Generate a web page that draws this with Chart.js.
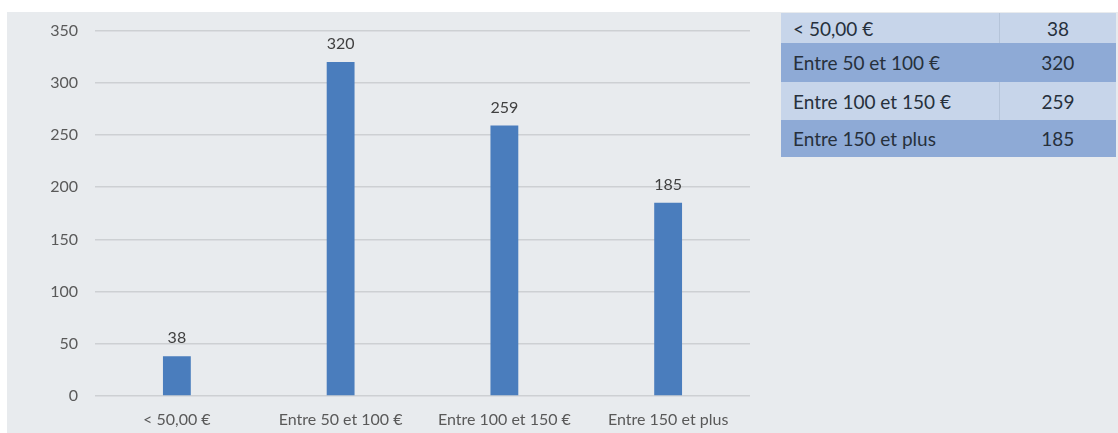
<!DOCTYPE html>
<html>
<head>
<meta charset="utf-8">
<script src="https://cdn.jsdelivr.net/npm/chart.js@4/dist/chart.umd.min.js"></script>
<style>
  body { margin: 0; background: #fff; width: 1118px; height: 433px; overflow: hidden; position: relative; font-family: Lato, "Open Sans", sans-serif; }
  #panel { position: absolute; left: 7px; top: 12px; width: 1111px; height: 421px; background: #e8ebee; }
  #chartBox { position: absolute; left: 7px; top: 4px; width: 763px; height: 429px; }
  #tbl { position: absolute; left: 781px; top: 13px; width: 335px; border-collapse: collapse; font-size: 19px; color: #26303c; }
  #tbl td { padding: 0 0 0 12px; }
  #tbl td.v { text-align: center; padding: 0; width: 116px; }
  #tbl tr.light { background: #c7d5ea; }
  #tbl tr.light td.v { border-left: 1px solid #b5c4d9; }
  #tbl tr.dark { background: #8eaad6; }
</style>
</head>
<body>
<div id="panel"></div>
<div id="chartBox"><canvas id="chartPrix"></canvas></div>
<table id="tbl"></table>
<script>
const categories = ["< 50,00 €", "Entre 50 et 100 €", "Entre 100 et 150 €", "Entre 150 et plus"];
const counts = [38, 320, 259, 185];
const tableLabels = ["< 50,00 €", "Entre 50 et 100 €", "Entre 100 et 150 €", "Entre 150 et plus"];
const rowHeights = [30, 39, 38, 37];

// tableau à droite
var tbl = document.getElementById('tbl');
tableLabels.forEach((lab, i) => {
    var tr = document.createElement('tr');
    tr.className = (i % 2 == 0) ? 'light' : 'dark';
    tr.style.height = rowHeights[i] + 'px';
    tr.innerHTML = '<td>' + lab + '</td><td class="v">' + counts[i] + '</td>';
    tbl.appendChild(tr);
});

// étiquettes au-dessus des barres
const valueLabels = {
    id: 'valueLabels',
    afterDatasetsDraw(chart) {
        const ctx = chart.ctx;
        const meta = chart.getDatasetMeta(0);
        ctx.save();
        ctx.font = '16px Lato, "Open Sans", sans-serif';
        ctx.fillStyle = '#404040';
        ctx.textAlign = 'center';
        ctx.textBaseline = 'middle';
        meta.data.forEach((bar, i) => {
            ctx.fillText(chart.data.datasets[0].data[i], bar.x, bar.y - 18);
        });
        ctx.restore();
    }
};

const ctx1 = document.getElementById('chartPrix').getContext('2d');
var prixChart = new Chart(ctx1, {
    type: 'bar',
    data: {
        labels: categories,
        datasets: [
            {
                data: counts,
                backgroundColor: '#4a7dbd',
                borderWidth: 0,
                categoryPercentage: 1,
                barPercentage: 0.17
            }
        ]
    },
    options: {
        responsive: true,
        maintainAspectRatio: false,
        animation: false,
        layout: { padding: { top: 8, right: 20, left: 0, bottom: 0 } },
        plugins: {
            legend: { display: false },
            tooltip: { enabled: false }
        },
        scales: {
            y: {
                min: 0,
                max: 350,
                ticks: { stepSize: 50, color: '#595959', padding: 17, font: { size: 16, family: 'Lato' } },
                grid: { color: '#cdd0d3', lineWidth: 1.5, drawTicks: false },
                border: { display: false },
                afterFit: (s) => { s.width = 88; }
            },
            x: {
                ticks: { color: '#595959', padding: 14, font: { size: 16, family: 'Lato' }, maxRotation: 0 },
                grid: { display: false, drawTicks: false },
                border: { display: false },
                afterFit: (s) => { s.height = 37; }
            }
        }
    },
    plugins: [valueLabels]
});
</script>
</body>
</html>
